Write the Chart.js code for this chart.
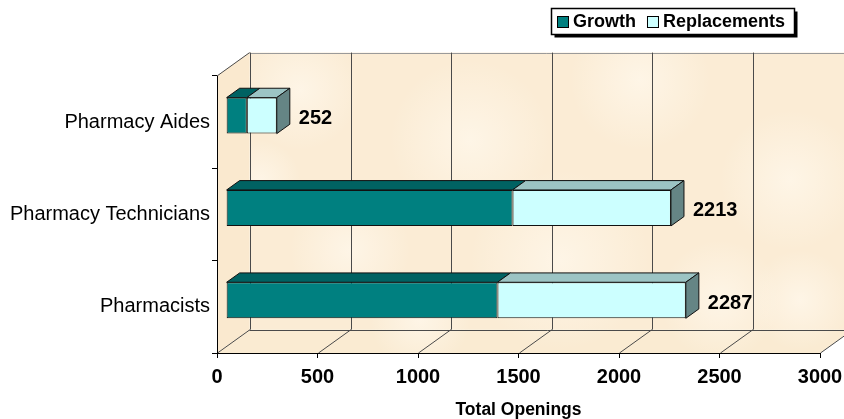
<!DOCTYPE html>
<html>
<head>
<meta charset="utf-8">
<title>Total Openings</title>
<script src="https://cdn.jsdelivr.net/npm/chart.js@4.4.1/dist/chart.umd.min.js"></script>
<style>
  html, body { margin: 0; padding: 0; background: #fff; }
  #wrap { width: 844px; height: 419px; }
</style>
</head>
<body>
<div id="wrap"><canvas id="openingsChart"></canvas></div>
<script>
const occupations = ['Pharmacy Aides', 'Pharmacy Technicians', 'Pharmacists'];
const growth = [103, 1425, 1350];
const replacements = [149, 788, 937];
const xTicks = [0, 500, 1000, 1500, 2000, 2500, 3000];

// oblique depth of the box, and where the bar slab sits inside it
const DEPTH = { dx: 32.6, dy: -23.4 };
const BAR_FRONT = 0.28;
const BAR_DEPTH = 0.4;

// pale blotches for the parchment look of the walls (x, y, radius)
const SPOTS = [[300, 90, 60], [470, 140, 80], [640, 80, 70], [790, 180, 70], [560, 260, 90],
  [350, 250, 60], [720, 300, 60], [420, 320, 50], [260, 180, 40], [800, 300, 50]];

Chart.defaults.font.family = '"Liberation Sans", Arial, sans-serif';
Chart.defaults.color = '#000';

// walls, floor and back gridlines
const frame3d = {
  id: 'frame3d',
  beforeDraw(chart) {
    const { ctx, chartArea: a, scales: { x } } = chart;
    const dx = DEPTH.dx, dy = DEPTH.dy;
    ctx.save();

    ctx.fillStyle = '#fbecd5';
    ctx.fillRect(a.left + dx, a.top + dy, chart.width - a.left - dx, a.bottom - a.top);

    ctx.fillStyle = '#fae9cf';
    ctx.beginPath();
    ctx.moveTo(a.left, a.top);
    ctx.lineTo(a.left + dx, a.top + dy);
    ctx.lineTo(a.left + dx, a.bottom + dy);
    ctx.lineTo(a.left, a.bottom);
    ctx.closePath();
    ctx.fill();

    ctx.fillStyle = '#faebd2';
    ctx.beginPath();
    ctx.moveTo(a.left, a.bottom);
    ctx.lineTo(a.left + dx, a.bottom + dy);
    ctx.lineTo(a.right + dx, a.bottom + dy);
    ctx.lineTo(a.right, a.bottom);
    ctx.closePath();
    ctx.fill();

    // soft mottling over back wall and floor
    ctx.save();
    ctx.beginPath();
    ctx.rect(a.left + dx, a.top + dy, chart.width - a.left - dx, a.bottom - a.top);
    ctx.moveTo(a.left, a.bottom);
    ctx.lineTo(a.left + dx, a.bottom + dy);
    ctx.lineTo(a.right + dx, a.bottom + dy);
    ctx.lineTo(a.right, a.bottom);
    ctx.closePath();
    ctx.clip();
    SPOTS.forEach(([sx, sy, r]) => {
      const g = ctx.createRadialGradient(sx, sy, 0, sx, sy, r);
      g.addColorStop(0, 'rgba(255, 248, 236, 0.75)');
      g.addColorStop(1, 'rgba(255, 248, 236, 0)');
      ctx.fillStyle = g;
      ctx.fillRect(sx - r, sy - r, r * 2, r * 2);
    });
    ctx.restore();

    ctx.lineWidth = 1;
    ctx.strokeStyle = '#9a9a9a';
    ctx.beginPath();
    ctx.moveTo(a.left + dx, Math.round(a.top + dy) + 0.5);
    ctx.lineTo(chart.width, Math.round(a.top + dy) + 0.5);
    ctx.stroke();

    ctx.strokeStyle = '#4a4a4a';
    ctx.beginPath();
    ctx.moveTo(a.left, a.top);
    ctx.lineTo(a.left + dx, a.top + dy);
    ctx.moveTo(a.left + dx, Math.round(a.bottom + dy) + 0.5);
    ctx.lineTo(a.right + dx, Math.round(a.bottom + dy) + 0.5);
    xTicks.forEach(v => {
      const px = Math.round(x.getPixelForValue(v)) + 0.5;
      ctx.moveTo(Math.round(px + dx) + 0.5, a.top + dy);
      ctx.lineTo(Math.round(px + dx) + 0.5, a.bottom + dy);
      ctx.moveTo(px, a.bottom);
      ctx.lineTo(px + dx, a.bottom + dy);
    });
    ctx.stroke();
    ctx.restore();
  }
};

// push the bars back into the box, then add top and end faces plus totals
const bars3d = {
  id: 'bars3d',
  beforeDatasetsDraw(chart) {
    chart.ctx.save();
    chart.ctx.translate(DEPTH.dx * BAR_FRONT, DEPTH.dy * BAR_FRONT);
  },
  afterDatasetsDraw(chart) {
    const ctx = chart.ctx;
    const bx = DEPTH.dx * BAR_DEPTH, by = DEPTH.dy * BAR_DEPTH;
    const metas = chart.getSortedVisibleDatasetMetas();
    const lastMeta = metas[metas.length - 1];
    ctx.lineWidth = 1;
    ctx.strokeStyle = '#111';

    metas.forEach(meta => {
      const ds = chart.data.datasets[meta.index];
      meta.data.forEach(bar => {
        const { x, y, base, height } = bar.getProps(['x', 'y', 'base', 'height'], true);
        const top = y - height / 2, bottom = y + height / 2;
        ctx.fillStyle = ds.topColor;
        ctx.beginPath();
        ctx.moveTo(base, top);
        ctx.lineTo(x, top);
        ctx.lineTo(x + bx, top + by);
        ctx.lineTo(base + bx, top + by);
        ctx.closePath();
        ctx.fill();
        ctx.stroke();
        if (meta === lastMeta) {
          ctx.fillStyle = ds.sideColor;
          ctx.beginPath();
          ctx.moveTo(x, top);
          ctx.lineTo(x + bx, top + by);
          ctx.lineTo(x + bx, bottom + by);
          ctx.lineTo(x, bottom);
          ctx.closePath();
          ctx.fill();
          ctx.stroke();
        }
      });
    });

    ctx.font = 'bold 20px "Liberation Sans", Arial, sans-serif';
    ctx.fillStyle = '#000';
    ctx.textAlign = 'left';
    ctx.textBaseline = 'middle';
    lastMeta.data.forEach((bar, i) => {
      const total = growth[i] + replacements[i];
      ctx.fillText(String(total), bar.x + 22, bar.y + 3);
    });
    ctx.restore();
  }
};

// boxed legend with a drop shadow
const boxLegend = {
  id: 'boxLegend',
  afterDraw(chart) {
    const ctx = chart.ctx;
    const bx = 551.5, bw = 243, byy = 8.5, bh = 26;
    ctx.save();
    ctx.fillStyle = '#000';
    ctx.fillRect(bx + 3, byy + 3, bw, bh);
    ctx.fillStyle = '#fff';
    ctx.fillRect(bx, byy, bw, bh);
    ctx.lineWidth = 1.5;
    ctx.strokeStyle = '#000';
    ctx.strokeRect(bx, byy, bw, bh);

    ctx.font = 'bold 18px "Liberation Sans", Arial, sans-serif';
    ctx.textBaseline = 'middle';
    ctx.lineWidth = 1;
    let cx = 557;
    chart.data.datasets.forEach(ds => {
      ctx.fillStyle = ds.backgroundColor;
      ctx.fillRect(cx + 0.5, 16.5, 11, 11);
      ctx.strokeRect(cx + 0.5, 16.5, 11, 11);
      ctx.fillStyle = '#000';
      ctx.fillText(ds.label, cx + 16, 22);
      cx += 16 + ctx.measureText(ds.label).width + 11;
    });
    ctx.restore();
  }
};

const ctxOpenings = document.getElementById('openingsChart').getContext('2d');
const openingsChart = new Chart(ctxOpenings, {
  type: 'bar',
  data: {
    labels: occupations,
    datasets: [{
      label: 'Growth',
      data: growth,
      backgroundColor: '#008080',
      topColor: '#006262',
      sideColor: '#4f7474',
      borderColor: '#111',
      borderWidth: 1,
      borderSkipped: false
    }, {
      label: 'Replacements',
      data: replacements,
      backgroundColor: '#ccffff',
      topColor: '#9cc4c4',
      sideColor: '#658585',
      borderColor: '#111',
      borderWidth: 1,
      borderSkipped: false
    }]
  },
  options: {
    indexAxis: 'y',
    responsive: true,
    maintainAspectRatio: false,
    animation: false,
    barPercentage: 0.39,
    categoryPercentage: 1,
    layout: { padding: { top: 76, right: 24, left: 0, bottom: 0 } },
    scales: {
      x: {
        stacked: true,
        min: xTicks[0],
        max: xTicks[xTicks.length - 1],
        afterFit(scale) { scale.height = 66; },
        ticks: {
          stepSize: xTicks[1] - xTicks[0],
          padding: 0,
          maxRotation: 0,
          font: { size: 20, weight: 'bold', lineHeight: 1.9 },
          callback: v => String(v)
        },
        grid: { drawOnChartArea: false, tickLength: 5, color: '#000' },
        border: { color: '#000' },
        title: {
          display: true,
          text: 'Total Openings',
          font: { size: 17.5, weight: 'bold', lineHeight: 1 },
          padding: { top: 0, bottom: 0 }
        }
      },
      y: {
        stacked: true,
        afterFit(scale) { scale.width = 217; },
        ticks: { padding: 2, font: { size: 20 } },
        grid: { drawOnChartArea: false, tickLength: 5, color: '#000', offset: true },
        border: { color: '#000' }
      }
    },
    plugins: { legend: { display: false }, tooltip: { enabled: false } }
  },
  plugins: [frame3d, bars3d, boxLegend]
});
</script>
</body>
</html>
